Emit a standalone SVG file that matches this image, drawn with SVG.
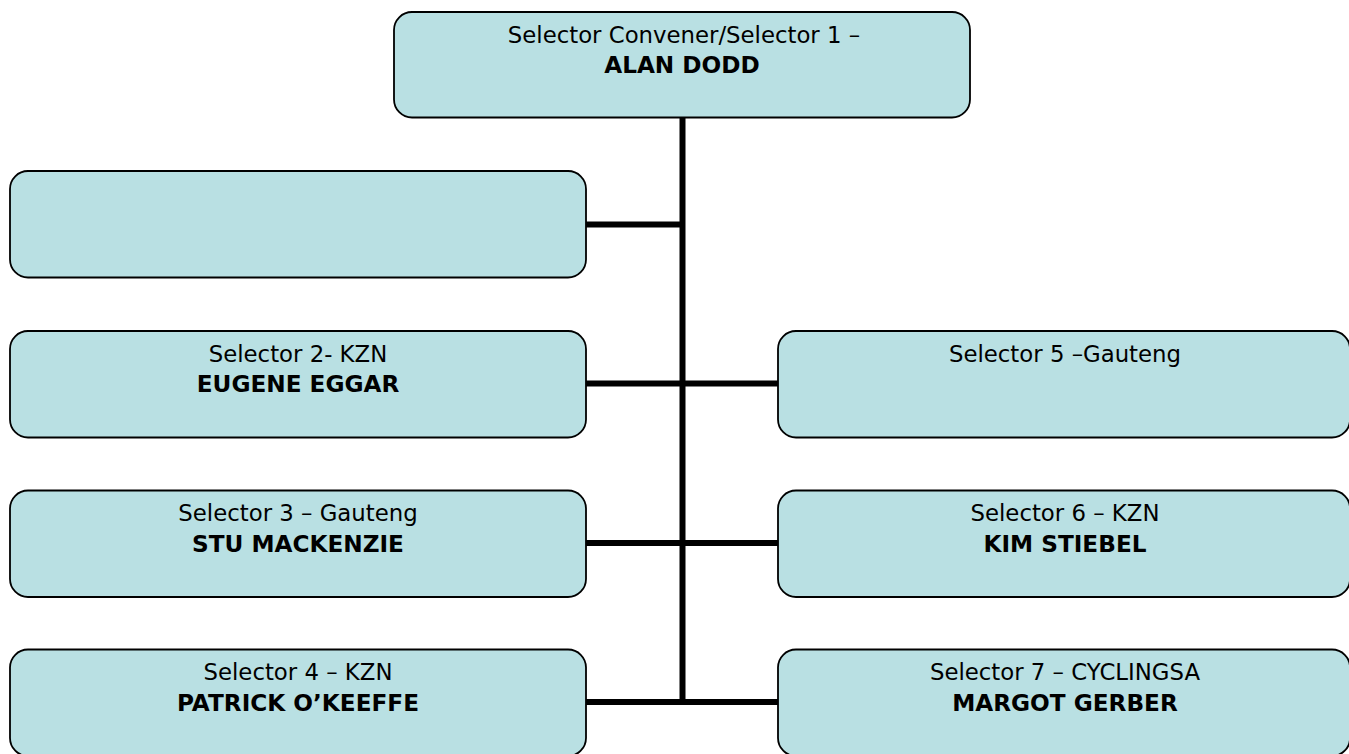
<svg xmlns="http://www.w3.org/2000/svg" width="1349" height="754" viewBox="0 0 1349 754">
<style>
.box{fill:#B9E0E3;stroke:#000;stroke-width:1.8}
.t{font-family:"DejaVu Sans","Verdana",sans-serif;font-size:22.8px;fill:#000;text-anchor:middle}
.b{font-weight:bold;font-size:23.2px}
.ln{stroke:#000;stroke-width:6;fill:none}
</style>
<rect width="1349" height="754" fill="#fff"/>
<g id="connectors">
<line class="ln" x1="682.5" y1="117" x2="682.5" y2="705"/>
<line class="ln" x1="586" y1="224.5" x2="682.5" y2="224.5"/>
<line class="ln" x1="586" y1="383.5" x2="778" y2="383.5"/>
<line class="ln" x1="586" y1="543" x2="778" y2="543"/>
<line class="ln" x1="586" y1="702" x2="778" y2="702"/>
</g>
<g id="n1">
<rect class="box" x="394" y="12" width="576" height="105.5" rx="18"/>
<text class="t" x="684" y="42.5">Selector Convener/Selector 1 –</text>
<text class="t b" x="682" y="73">ALAN DODD</text>
</g>
<g id="n_blank">
<rect class="box" x="10" y="171" width="576" height="106.5" rx="18"/>
</g>
<g id="n2">
<rect class="box" x="10" y="331" width="576" height="106.5" rx="18"/>
<text class="t" x="298" y="361.5">Selector 2- KZN</text>
<text class="t b" x="298" y="392">EUGENE EGGAR</text>
</g>
<g id="n3">
<rect class="box" x="10" y="490.5" width="576" height="106.5" rx="18"/>
<text class="t" x="298" y="521">Selector 3 – Gauteng</text>
<text class="t b" x="298" y="551.5">STU MACKENZIE</text>
</g>
<g id="n4">
<rect class="box" x="10" y="649.5" width="576" height="106.5" rx="18"/>
<text class="t" x="298" y="680">Selector 4 – KZN</text>
<text class="t b" x="298" y="710.5">PATRICK O’KEEFFE</text>
</g>
<g id="n5">
<rect class="box" x="778" y="331" width="572" height="106.5" rx="18"/>
<text class="t" x="1065" y="361.5">Selector 5 –Gauteng</text>
</g>
<g id="n6">
<rect class="box" x="778" y="490.5" width="572" height="106.5" rx="18"/>
<text class="t" x="1065" y="521">Selector 6 – KZN</text>
<text class="t b" x="1065" y="551.5">KIM STIEBEL</text>
</g>
<g id="n7">
<rect class="box" x="778" y="649.5" width="572" height="106.5" rx="18"/>
<text class="t" x="1065" y="680">Selector 7 – CYCLINGSA</text>
<text class="t b" x="1065" y="710.5">MARGOT GERBER</text>
</g>
</svg>
